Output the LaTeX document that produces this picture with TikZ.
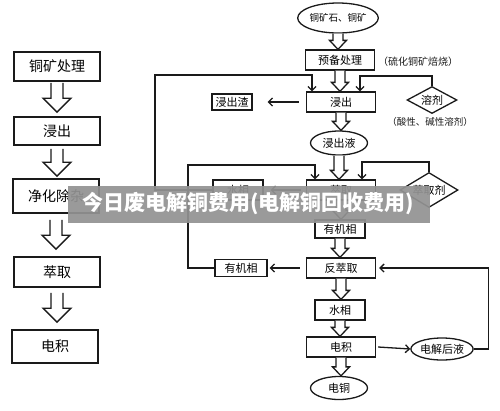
\documentclass[tikz,border=0pt]{standalone}
\usepackage{fontspec}
\usepackage{xcolor}
\usepackage{tikz}
\usetikzlibrary{arrows.meta,calc,shapes.geometric}
\newfontfamily\cjk{Noto Sans CJK SC}
\definecolor{ink}{HTML}{1A1A1A}
\definecolor{banner}{HTML}{929292}
\tikzset{
  boxL/.style={draw=ink, line width=1.6pt, minimum width=86pt, inner sep=0pt, font=\cjk\fontsize{14}{14}\selectfont},
  box/.style={draw=ink, line width=1.3pt, minimum width=69pt, minimum height=20pt, inner sep=0pt, font=\cjk\fontsize{11}{11}\selectfont},
  boxs/.style={box, minimum width=50pt, minimum height=18pt},
  ell/.style={draw=ink, ellipse, line width=1.3pt, inner sep=0pt, font=\cjk\fontsize{11}{11}\selectfont},
  dia/.style={draw=ink, diamond, aspect=1.6, line width=1.3pt, inner sep=0pt, font=\cjk\fontsize{11}{11}\selectfont},
  lab/.style={text=ink, font=\cjk\fontsize{10}{10}\selectfont},
  conn/.style={draw=ink, line width=1.3pt, -{Straight Barb[length=4pt,width=8pt]}},
  hollowL/.style={draw=ink, line width=1.4pt, fill=white, to path={
    let \p1=(\tikztostart), \p2=(\tikztotarget) in
    (\x1-6pt,\y1) -- (\x1-6pt,\y2+14pt) -- (\x1-14pt,\y2+14pt) -- (\x1,\y2)
    -- (\x1+14pt,\y2+14pt) -- (\x1+6pt,\y2+14pt) -- (\x1+6pt,\y1)}},
  hollowS/.style={draw=ink, line width=1.3pt, fill=white, to path={
    let \p1=(\tikztostart), \p2=(\tikztotarget) in
    (\x1-5pt,\y1) -- (\x1-5pt,\y2+9pt) -- (\x1-8.5pt,\y2+9pt) -- (\x1,\y2)
    -- (\x1+8.5pt,\y2+9pt) -- (\x1+5pt,\y2+9pt) -- (\x1+5pt,\y1)}},
  bannertext/.style={text=white, font=\cjk\bfseries\fontsize{21}{21}\selectfont}
}

\begin{document}
\begin{tikzpicture}[x=1pt, y=-1pt]
  \useasboundingbox (0,0) rectangle (500,410);

  % left column: overview
  \node[boxL, minimum height=29pt] (ore) at (57,66.5) {铜矿处理};
  \node[boxL, minimum height=28pt] (leachL) at (57,131) {浸出};
  \node[boxL, minimum height=34pt] (purL) at (56,196) {净化除杂};
  \node[boxL, minimum height=30pt] (extL) at (57,272) {萃取};
  \node[boxL, minimum height=33pt] (ewL) at (55,346.5) {电积};

  \draw[hollowL] ([yshift=-1pt]ore.south) to ([yshift=4pt]leachL.north);
  \draw[hollowL] ([yshift=-3pt]leachL.south) to ([yshift=2pt]purL.north);
  \draw[hollowL] ([yshift=-6pt]purL.south) to ([yshift=7pt]extL.north);
  \draw[hollowL] ([yshift=-5pt]extL.south) to ([yshift=7pt]ewL.north);

  % right column: process flow
  \node[ell, minimum width=76pt, minimum height=30pt, font=\cjk\fontsize{9.5}{9.5}\selectfont] (raw) at (338,18) {铜矿石、铜矿};
  \node[box] (pre) at (340,60) {预备处理};
  \node[box] (leach) at (341,102) {浸出};
  \node[ell, minimum width=57pt, minimum height=24pt] (liq) at (339,143) {浸出液};
  \node[box] (ext) at (341,190) {萃取};
  \node[boxs] (org1) at (340,229) {有机相};
  \node[box] (strip) at (341,268) {反萃取};
  \node[boxs, minimum height=20pt] (aq2) at (340,310) {水相};
  \node[box] (ew) at (341,347) {电积};
  \node[ell, minimum width=57pt, minimum height=23pt] (cu) at (339,388) {电铜};

  \node[boxs, minimum width=40pt, minimum height=16pt] (res) at (232,102) {浸出渣};
  \node[dia, minimum width=50pt, minimum height=27pt] (solv) at (432,100) {溶剂};
  \node[boxs, minimum height=20pt] (aq1) at (238,190) {水相};
  \node[dia, minimum width=58pt, minimum height=35pt] (exd) at (429,190) {萃取剂};
  \node[boxs, minimum width=52pt, minimum height=17pt] (org2) at (241,268) {有机相};
  \node[ell, minimum width=60pt, minimum height=22pt] (spent) at (442,349) {电解后液};

  \node[lab] (noteA) at (418,62) {（硫化铜矿焙烧）};
  \node[lab, font=\cjk\fontsize{9.5}{9.5}\selectfont] (noteB) at (430,122) {（酸性、碱性溶剂）};

  \draw[hollowS] (raw.south) to (pre.north);
  \draw[hollowS] (pre.south) to (leach.north);
  \draw[hollowS] (leach.south) to (liq.north);
  \draw[hollowS] (liq.south) to (ext.north);
  \draw[hollowS] (ext.south) to (org1.north);
  \draw[hollowS] (org1.south) to (strip.north);
  \draw[hollowS] (strip.south) to (aq2.north);
  \draw[hollowS] (aq2.south) to (ew.north);
  \draw[hollowS] (ew.south) to (cu.north);

  \draw[conn] ([xshift=-7pt]leach.west) -- ([xshift=15pt]res.east);
  \draw[conn] ([xshift=-5pt]ext.west) -- ([xshift=7pt]aq1.east);
  \draw[conn] ([xshift=-6pt]strip.west) -- ([xshift=2pt]org2.east);
  \draw[conn] ([xshift=2pt]ew.east) -- (spent.west);

  \coordinate (c1) at (155,75);
  \coordinate (c2) at (188,165);
  \draw[conn] (aq1.west) -| (c1) -| ([xshift=-29pt]leach.north);
  \draw[conn] (solv.north) -- ++(0,-10) -| ([xshift=19pt]leach.north);
  \draw[conn] (org2.west) -| (c2) -| ([xshift=-26pt]ext.north);
  \draw[conn] (exd.north) -- ++(0,-10) -| ([xshift=21pt]ext.north);
  \draw[conn] (spent.east) -- ++(15,0) |- ([xshift=3pt]strip.east);

  % overlay caption
  \fill[banner, opacity=0.93] (68,186) rectangle (430,223);
  \node[bannertext] (cap) at (248,204) {今日废电解铜费用(电解铜回收费用)};
\end{tikzpicture}
\end{document}
